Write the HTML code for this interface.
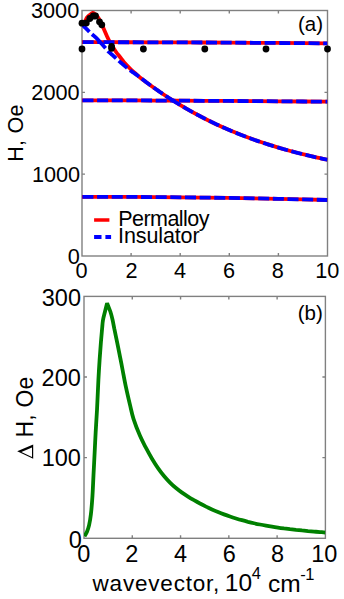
<!DOCTYPE html>
<html><head><meta charset="utf-8"><style>
html,body{margin:0;padding:0;background:#fff;}
body{width:344px;height:599px;overflow:hidden;}
svg{display:block;}
text{font-family:"Liberation Sans",sans-serif;font-size:21.5px;fill:#000;}
</style></head><body>
<svg width="344" height="599" viewBox="0 0 344 599">
<defs><clipPath id="ca"><rect x="82.0" y="10.5" width="245.5" height="245.5"/></clipPath>
<clipPath id="cb"><rect x="84.0" y="296.4" width="241.4" height="241.9"/></clipPath></defs>
<rect x="82.0" y="10.5" width="245.5" height="245.5" fill="none" stroke="#808080" stroke-width="1.4"/>
<path d="M131.10 256.00 V253.00 M131.10 10.50 V13.50 M180.20 256.00 V253.00 M180.20 10.50 V13.50 M229.30 256.00 V253.00 M229.30 10.50 V13.50 M278.40 256.00 V253.00 M278.40 10.50 V13.50 M82.00 174.17 H85.00 M327.50 174.17 H324.50 M82.00 92.33 H85.00 M327.50 92.33 H324.50" stroke="#808080" stroke-width="1.4" fill="none"/>
<rect x="84.0" y="296.4" width="241.4" height="241.9" fill="none" stroke="#808080" stroke-width="1.4"/>
<path d="M132.28 538.30 V535.30 M132.28 296.40 V299.40 M180.56 538.30 V535.30 M180.56 296.40 V299.40 M228.84 538.30 V535.30 M228.84 296.40 V299.40 M277.12 538.30 V535.30 M277.12 296.40 V299.40 M84.00 457.67 H87.00 M325.40 457.67 H322.40 M84.00 377.03 H87.00 M325.40 377.03 H322.40" stroke="#808080" stroke-width="1.4" fill="none"/>
<g clip-path="url(#ca)" fill="none" stroke-width="3.80">
<path d="M82.00 42.20 L106.55 42.21 L131.10 42.25 L155.65 42.31 L180.20 42.39 L204.75 42.50 L229.30 42.63 L253.85 42.79 L278.40 42.97 L302.95 43.17 L327.50 43.40" stroke="#ff0000"/>
<path d="M82.00 100.30 L106.55 100.34 L131.10 100.43 L155.65 100.53 L180.20 100.65 L204.75 100.79 L229.30 100.95 L253.85 101.12 L278.40 101.30 L302.95 101.50 L327.50 101.70" stroke="#ff0000"/>
<path d="M82.00 196.80 L106.55 196.83 L131.10 196.93 L155.65 197.09 L180.20 197.31 L204.75 197.60 L229.30 197.95 L253.85 198.37 L278.40 198.85 L302.95 199.39 L327.50 200.00" stroke="#ff0000"/>
<path d="M82.00 26.00 C82.51 25.19 84.22 22.53 85.06 21.12 C85.90 19.71 86.18 18.59 87.03 17.52 C87.88 16.45 89.20 15.48 90.14 14.72 C91.08 13.96 91.89 13.10 92.69 12.99 C93.49 12.88 94.17 13.52 94.95 14.09 C95.73 14.66 96.62 15.43 97.40 16.40 C98.18 17.37 98.60 17.97 99.60 19.90 C100.60 21.83 101.95 24.82 103.40 28.00 C104.85 31.18 106.83 36.05 108.30 39.00 C109.77 41.95 110.90 43.53 112.20 45.70 C113.50 47.87 114.80 50.12 116.10 52.00 C117.40 53.88 118.68 55.30 120.00 57.00 C121.32 58.70 122.17 60.12 124.00 62.20 C125.83 64.28 129.00 67.53 131.00 69.50 C133.00 71.47 134.50 72.68 136.00 74.00 C137.50 75.32 138.00 75.85 140.00 77.44 C142.00 79.02 145.33 81.52 148.00 83.49 C150.67 85.46 153.33 87.38 156.00 89.25 C158.67 91.12 161.33 92.95 164.00 94.73 C166.67 96.51 169.33 98.24 172.00 99.94 C174.67 101.63 177.33 103.27 180.00 104.88 C182.67 106.48 185.33 108.05 188.00 109.57 C190.67 111.09 193.33 112.57 196.00 114.01 C198.67 115.45 201.33 116.85 204.00 118.22 C206.67 119.58 209.33 120.90 212.00 122.19 C214.67 123.48 217.33 124.73 220.00 125.95 C222.67 127.17 225.33 128.35 228.00 129.50 C230.67 130.65 233.33 131.77 236.00 132.85 C238.67 133.93 241.33 134.99 244.00 136.01 C246.67 137.03 249.33 138.02 252.00 138.98 C254.67 139.94 257.33 140.88 260.00 141.78 C262.67 142.69 265.33 143.57 268.00 144.42 C270.67 145.27 273.33 146.10 276.00 146.90 C278.67 147.70 281.33 148.48 284.00 149.23 C286.67 149.99 289.33 150.72 292.00 151.43 C294.67 152.14 297.33 152.83 300.00 153.50 C302.67 154.17 305.33 154.82 308.00 155.45 C310.67 156.08 313.33 156.69 316.00 157.29 C318.67 157.88 322.08 158.61 324.00 159.02 C325.92 159.43 326.92 159.63 327.50 159.75" stroke="#ff0000"/>
<path d="M82.00 24.60 L82.23 24.82 L82.53 25.11 L82.88 25.44 L83.27 25.81 L83.69 26.21 L84.14 26.64 L84.60 27.08 L85.07 27.53 L85.53 27.97 L85.98 28.40 L86.41 28.82 L86.80 29.20 L87.17 29.56 L87.53 29.92 L87.87 30.28 L88.21 30.63 L88.55 30.97 L88.89 31.32 L89.22 31.66 L89.56 32.01 L89.91 32.35 L90.26 32.70 L90.62 33.05 L91.00 33.40 L91.39 33.75 L91.80 34.11 L92.22 34.47 L92.64 34.83 L93.08 35.18 L93.51 35.54 L93.95 35.90 L94.38 36.26 L94.80 36.62 L95.22 36.98 L95.62 37.34 L96.00 37.70 L96.37 38.05 L96.71 38.40 L97.05 38.74 L97.37 39.09 L97.69 39.43 L98.00 39.77 L98.31 40.12 L98.63 40.47 L98.95 40.83 L99.29 41.21 L99.63 41.60 L100.00 42.00 L100.19 42.21 L106.55 42.21 L131.10 42.25 L155.65 42.31 L180.20 42.39 L204.75 42.50 L229.30 42.63 L253.85 42.79 L278.40 42.97 L302.95 43.17 L327.50 43.40" stroke="#0000ff" stroke-dasharray="11.05 3.6" stroke-dashoffset="0.70"/>
<path d="M82.00 42.20 L100.19 42.21 L100.39 42.43 L100.80 42.88 L101.22 43.35 L101.66 43.84 L102.10 44.33 L102.54 44.83 L102.99 45.33 L103.42 45.82 L103.85 46.30 L104.25 46.76 L104.64 47.19 L105.00 47.60 L105.33 47.98 L105.64 48.34 L105.92 48.68 L106.19 49.00 L106.45 49.32 L106.70 49.62 L106.95 49.91 L107.20 50.21 L107.45 50.50 L107.72 50.79 L108.00 51.09 L108.30 51.40 L108.62 51.71 L108.95 52.02 L109.29 52.33 L109.64 52.64 L109.99 52.95 L110.35 53.26 L110.71 53.56 L111.07 53.87 L111.44 54.18 L111.80 54.48 L112.15 54.79 L112.50 55.10 L112.85 55.41 L113.20 55.72 L113.55 56.04 L113.90 56.36 L114.25 56.67 L114.60 56.99 L114.95 57.30 L115.29 57.61 L115.63 57.92 L115.96 58.22 L116.28 58.51 L116.60 58.80 L116.91 59.08 L117.20 59.35 L117.49 59.61 L117.76 59.87 L118.04 60.12 L118.31 60.37 L118.58 60.62 L118.85 60.87 L119.12 61.12 L119.41 61.37 L119.70 61.63 L120.00 61.90 L120.31 62.17 L120.64 62.45 L120.97 62.74 L121.31 63.03 L121.65 63.32 L121.99 63.61 L122.34 63.90 L122.68 64.19 L123.02 64.47 L123.36 64.75 L123.68 65.03 L124.00 65.30 L124.31 65.56 L124.61 65.83 L124.91 66.09 L125.20 66.34 L125.49 66.59 L125.78 66.84 L126.07 67.09 L126.35 67.34 L126.64 67.58 L126.92 67.82 L127.21 68.06 L127.50 68.30 L127.79 68.53 L128.07 68.76 L128.34 68.98 L128.61 69.20 L128.88 69.41 L129.16 69.62 L129.44 69.84 L129.72 70.06 L130.02 70.28 L130.33 70.51 L130.66 70.75 L131.00 71.00 L131.37 71.26 L131.76 71.53 L132.17 71.81 L132.59 72.09 L133.03 72.39 L133.47 72.68 L133.91 72.97 L134.35 73.27 L134.79 73.56 L135.21 73.85 L135.61 74.13 L136.00 74.40 L136.36 74.66 L136.68 74.89 L136.98 75.11 L137.26 75.33 L137.54 75.54 L137.81 75.75 L138.10 75.98 L138.41 76.21 L138.74 76.47 L139.11 76.76 L139.53 77.08 L140.00 77.44 L140.53 77.84 L141.10 78.27 L141.72 78.74 L142.37 79.24 L143.05 79.76 L143.75 80.29 L144.46 80.83 L145.19 81.38 L145.91 81.93 L146.62 82.46 L147.32 82.98 L148.00 83.49 L148.67 83.98 L149.33 84.47 L150.00 84.96 L150.67 85.44 L151.33 85.92 L152.00 86.41 L152.67 86.88 L153.33 87.36 L154.00 87.84 L154.67 88.31 L155.33 88.78 L156.00 89.25 L156.67 89.72 L157.33 90.18 L158.00 90.65 L158.67 91.11 L159.33 91.57 L160.00 92.02 L160.67 92.48 L161.33 92.93 L162.00 93.39 L162.67 93.84 L163.33 94.28 L164.00 94.73 L164.67 95.17 L165.33 95.62 L166.00 96.06 L166.67 96.50 L167.33 96.93 L168.00 97.37 L168.67 97.80 L169.33 98.23 L170.00 98.66 L170.67 99.09 L171.33 99.51 L172.00 99.94 L172.67 100.36 L173.08 100.62 L180.20 100.65 L204.75 100.79 L229.30 100.95 L253.85 101.12 L278.40 101.30 L302.95 101.50 L327.50 101.70" stroke="#0000ff" stroke-dasharray="11.05 3.6" stroke-dashoffset="-0.60"/>
<path d="M82.00 100.30 L106.55 100.34 L131.10 100.43 L155.65 100.53 L173.08 100.62 L173.33 100.78 L174.00 101.20 L174.67 101.61 L175.33 102.03 L176.00 102.44 L176.67 102.85 L177.33 103.26 L178.00 103.67 L178.67 104.07 L179.33 104.48 L180.00 104.88 L180.67 105.28 L181.33 105.68 L182.00 106.08 L182.67 106.47 L183.33 106.86 L184.00 107.25 L184.67 107.64 L185.33 108.03 L186.00 108.42 L186.67 108.80 L187.33 109.19 L188.00 109.57 L188.67 109.95 L189.33 110.32 L190.00 110.70 L190.67 111.08 L191.33 111.45 L192.00 111.82 L192.67 112.19 L193.33 112.56 L194.00 112.92 L194.67 113.29 L195.33 113.65 L196.00 114.01 L196.67 114.37 L197.33 114.73 L198.00 115.08 L198.67 115.44 L199.33 115.79 L200.00 116.14 L200.67 116.49 L201.33 116.84 L202.00 117.19 L202.67 117.53 L203.33 117.87 L204.00 118.22 L204.67 118.56 L205.33 118.89 L206.00 119.23 L206.67 119.57 L207.33 119.90 L208.00 120.23 L208.67 120.56 L209.33 120.89 L210.00 121.22 L210.67 121.55 L211.33 121.87 L212.00 122.19 L212.67 122.51 L213.33 122.83 L214.00 123.15 L214.67 123.47 L215.33 123.79 L216.00 124.10 L216.67 124.41 L217.33 124.72 L218.00 125.03 L218.67 125.34 L219.33 125.65 L220.00 125.95 L220.67 126.26 L221.33 126.56 L222.00 126.86 L222.67 127.16 L223.33 127.46 L224.00 127.75 L224.67 128.05 L225.33 128.34 L226.00 128.63 L226.67 128.92 L227.33 129.21 L228.00 129.50 L228.67 129.79 L229.33 130.07 L230.00 130.36 L230.67 130.64 L231.33 130.92 L232.00 131.20 L232.67 131.48 L233.33 131.76 L234.00 132.03 L234.67 132.31 L235.33 132.58 L236.00 132.85 L236.67 133.12 L237.33 133.39 L238.00 133.66 L238.67 133.92 L239.33 134.19 L240.00 134.45 L240.67 134.71 L241.33 134.98 L242.00 135.24 L242.67 135.49 L243.33 135.75 L244.00 136.01 L244.67 136.26 L245.33 136.52 L246.00 136.77 L246.67 137.02 L247.33 137.27 L248.00 137.52 L248.67 137.76 L249.33 138.01 L250.00 138.25 L250.67 138.50 L251.33 138.74 L252.00 138.98 L252.67 139.22 L253.33 139.46 L254.00 139.70 L254.67 139.93 L255.33 140.17 L256.00 140.40 L256.67 140.64 L257.33 140.87 L258.00 141.10 L258.67 141.33 L259.33 141.56 L260.00 141.78 L260.67 142.01 L261.33 142.23 L262.00 142.46 L262.67 142.68 L263.33 142.90 L264.00 143.12 L264.67 143.34 L265.33 143.56 L266.00 143.77 L266.67 143.99 L267.33 144.20 L268.00 144.42 L268.67 144.63 L269.33 144.84 L270.00 145.05 L270.67 145.26 L271.33 145.47 L272.00 145.68 L272.67 145.88 L273.33 146.09 L274.00 146.29 L274.67 146.50 L275.33 146.70 L276.00 146.90 L276.67 147.10 L277.33 147.30 L278.00 147.50 L278.67 147.69 L279.33 147.89 L280.00 148.08 L280.67 148.28 L281.33 148.47 L282.00 148.66 L282.67 148.85 L283.33 149.04 L284.00 149.23 L284.67 149.42 L285.33 149.61 L286.00 149.79 L286.67 149.98 L287.33 150.16 L288.00 150.35 L288.67 150.53 L289.33 150.71 L290.00 150.89 L290.67 151.07 L291.33 151.25 L292.00 151.43 L292.67 151.61 L293.33 151.78 L294.00 151.96 L294.67 152.13 L295.33 152.31 L296.00 152.48 L296.67 152.65 L297.33 152.82 L298.00 152.99 L298.67 153.16 L299.33 153.33 L300.00 153.50 L300.67 153.66 L301.33 153.83 L302.00 154.00 L302.67 154.16 L303.33 154.32 L304.00 154.49 L304.67 154.65 L305.33 154.81 L306.00 154.97 L306.67 155.13 L307.33 155.29 L308.00 155.45 L308.67 155.60 L309.33 155.76 L310.00 155.92 L310.67 156.07 L311.33 156.23 L312.00 156.38 L312.67 156.53 L313.33 156.68 L314.00 156.84 L314.67 156.99 L315.33 157.14 L316.00 157.29 L316.68 157.44 L317.39 157.59 L318.11 157.75 L318.83 157.91 L319.56 158.07 L320.28 158.22 L320.99 158.37 L321.67 158.52 L322.32 158.66 L322.93 158.79 L323.49 158.91 L324.00 159.02 L324.46 159.12 L324.88 159.21 L325.27 159.29 L325.63 159.37 L325.95 159.43 L326.25 159.50 L326.52 159.55 L326.76 159.60 L326.98 159.64 L327.17 159.68 L327.35 159.72 L327.50 159.75" stroke="#0000ff" stroke-dasharray="11.05 3.6" stroke-dashoffset="-0.45"/>
<path d="M82.00 196.80 L106.55 196.83 L131.10 196.93 L155.65 197.09 L180.20 197.31 L204.75 197.60 L229.30 197.95 L253.85 198.37 L278.40 198.85 L302.95 199.39 L327.50 200.00" stroke="#0000ff" stroke-dasharray="11.05 3.6" stroke-dashoffset="-0.40"/>
</g>
<g fill="#000">
<circle cx="82.00" cy="23.20" r="3.40"/>
<circle cx="86.30" cy="23.00" r="3.40"/>
<circle cx="89.80" cy="18.50" r="3.40"/>
<circle cx="93.30" cy="16.00" r="3.40"/>
<circle cx="95.50" cy="16.00" r="3.40"/>
<circle cx="99.50" cy="21.80" r="3.40"/>
<circle cx="101.80" cy="24.80" r="3.40"/>
<circle cx="111.60" cy="46.40" r="3.40"/>
<circle cx="111.60" cy="48.30" r="3.40"/>
<circle cx="82.00" cy="49.00" r="3.40"/>
<circle cx="143.40" cy="49.00" r="3.40"/>
<circle cx="204.80" cy="49.00" r="3.40"/>
<circle cx="266.00" cy="49.00" r="3.40"/>
<circle cx="327.50" cy="49.00" r="3.40"/>
</g>
<path d="M94.1 220 H109.4" stroke="#ff0000" stroke-width="3.5"/>
<path d="M94.1 237 H101.5 M105.4 237 H111.1" stroke="#0000ff" stroke-width="3.8"/>
<path d="M17.20 451.30 L33.20 444.60 L33.20 458.80 Z M21.38 452.04 L32.00 447.60 L32.00 457.02 Z" fill="#000" fill-rule="evenodd"/>
<g clip-path="url(#cb)" fill="none" stroke-width="3.80" stroke-linejoin="round">
<path d="M84.50 536.20 C84.92 535.45 86.23 533.53 87.00 531.70 C87.77 529.87 88.45 528.10 89.10 525.20 C89.75 522.30 90.35 519.00 90.90 514.30 C91.45 509.60 91.97 503.52 92.40 497.00 C92.83 490.48 93.13 482.45 93.50 475.20 C93.87 467.95 94.23 460.75 94.60 453.50 C94.97 446.25 95.30 438.95 95.70 431.70 C96.10 424.45 96.55 418.62 97.00 410.00 C97.45 401.38 97.97 388.33 98.40 380.00 C98.83 371.67 99.18 366.28 99.60 360.00 C100.02 353.72 100.48 347.52 100.90 342.30 C101.32 337.08 101.75 332.42 102.10 328.70 C102.45 324.98 102.53 322.78 103.00 320.00 C103.47 317.22 104.22 314.80 104.90 312.00 C105.58 309.20 106.73 304.67 107.10 303.20 L107.10 303.20 C107.67 304.67 109.58 309.20 110.50 312.00 C111.42 314.80 111.97 317.22 112.60 320.00 C113.23 322.78 113.50 324.77 114.30 328.70 C115.10 332.63 116.40 338.70 117.40 343.60 C118.40 348.50 119.43 353.70 120.30 358.10 C121.17 362.50 121.65 365.12 122.60 370.00 C123.55 374.88 124.77 381.58 126.00 387.40 C127.23 393.22 128.75 399.67 130.00 404.90 C131.25 410.13 131.83 413.64 133.50 418.80 C135.17 423.96 137.92 431.02 140.00 435.87 C142.08 440.73 144.00 444.15 146.00 447.95 C148.00 451.75 150.00 455.34 152.00 458.69 C154.00 462.04 156.00 465.16 158.00 468.05 C160.00 470.93 162.00 473.57 164.00 475.99 C166.00 478.42 168.00 480.57 170.00 482.58 C172.00 484.59 174.00 486.37 176.00 488.05 C178.00 489.73 180.00 491.22 182.00 492.64 C184.00 494.07 186.00 495.36 188.00 496.62 C190.00 497.88 192.00 499.06 194.00 500.22 C196.00 501.37 198.00 502.47 200.00 503.54 C202.00 504.60 204.00 505.62 206.00 506.60 C208.00 507.58 210.00 508.51 212.00 509.41 C214.00 510.31 216.00 511.17 218.00 511.99 C220.00 512.81 222.00 513.60 224.00 514.35 C226.00 515.10 228.00 515.81 230.00 516.49 C232.00 517.18 234.00 517.82 236.00 518.44 C238.00 519.06 240.00 519.65 242.00 520.20 C244.00 520.76 246.00 521.29 248.00 521.80 C250.00 522.30 252.00 522.78 254.00 523.23 C256.00 523.68 258.00 524.11 260.00 524.51 C262.00 524.92 264.00 525.30 266.00 525.66 C268.00 526.03 270.00 526.37 272.00 526.69 C274.00 527.02 276.00 527.32 278.00 527.61 C280.00 527.91 282.00 528.18 284.00 528.44 C286.00 528.70 288.00 528.94 290.00 529.18 C292.00 529.42 294.00 529.64 296.00 529.85 C298.00 530.06 300.00 530.27 302.00 530.46 C304.00 530.66 306.00 530.85 308.00 531.03 C310.00 531.21 312.00 531.39 314.00 531.56 C316.00 531.74 318.10 531.91 320.00 532.07 C321.90 532.24 324.50 532.45 325.40 532.53" stroke="#008000" stroke-linejoin="bevel"/>
</g>
<text x="67.66" y="263.80" style="font-size:21.70px">0</text>
<text x="31.91" y="181.79" style="font-size:21.70px">1000</text>
<text x="31.37" y="99.55" style="font-size:21.70px">2000</text>
<text x="30.97" y="18.21" style="font-size:21.70px">3000</text>
<text x="75.61" y="277.80" style="font-size:21.70px">0</text>
<text x="125.52" y="277.80" style="font-size:21.70px">2</text>
<text x="173.99" y="277.80" style="font-size:21.70px">4</text>
<text x="222.91" y="277.80" style="font-size:21.70px">6</text>
<text x="271.83" y="277.80" style="font-size:21.70px">8</text>
<text x="315.25" y="277.80" style="font-size:21.70px">10</text>
<text x="68.68" y="547.58" style="font-size:23.50px">0</text>
<text x="41.74" y="466.18" style="font-size:23.50px">100</text>
<text x="41.60" y="386.40" style="font-size:23.50px">200</text>
<text x="41.78" y="305.82" style="font-size:23.50px">300</text>
<text x="77.33" y="562.30" style="font-size:23.50px">0</text>
<text x="125.30" y="562.30" style="font-size:23.50px">2</text>
<text x="173.96" y="562.30" style="font-size:23.50px">4</text>
<text x="222.71" y="562.30" style="font-size:23.50px">6</text>
<text x="271.04" y="562.30" style="font-size:23.50px">8</text>
<text x="311.21" y="562.30" style="font-size:23.50px">10</text>
<text x="297.93" y="30.64" style="font-size:20.50px">(a)</text>
<text x="297.79" y="319.75" style="font-size:20.50px">(b)</text>
<text x="118.27" y="225.90" style="font-size:21.50px" textLength="91.19" lengthAdjust="spacing">Permalloy</text>
<text x="118.05" y="242.50" style="font-size:21.50px" textLength="81.57" lengthAdjust="spacing">Insulator</text>
<text transform="translate(22.77,161.76) rotate(-90)" style="font-size:21.50px" textLength="57.16" lengthAdjust="spacing">H, Oe</text>
<text transform="translate(33.23,437.59) rotate(-90)" style="font-size:23.00px" textLength="60.98" lengthAdjust="spacing">H, Oe</text>
<text x="92.56" y="590.96" style="font-size:22.50px" textLength="126.81" lengthAdjust="spacing">wavevector,</text>
<text x="224.75" y="591.05" style="font-size:24.50px">10</text>
<text x="251.87" y="579.24" style="font-size:16.50px">4</text>
<text x="267.92" y="591.86" style="font-size:24.50px">cm</text>
<text x="300.19" y="579.69" style="font-size:16.50px" textLength="14.14" lengthAdjust="spacing">-1</text>
</svg>
</body></html>
